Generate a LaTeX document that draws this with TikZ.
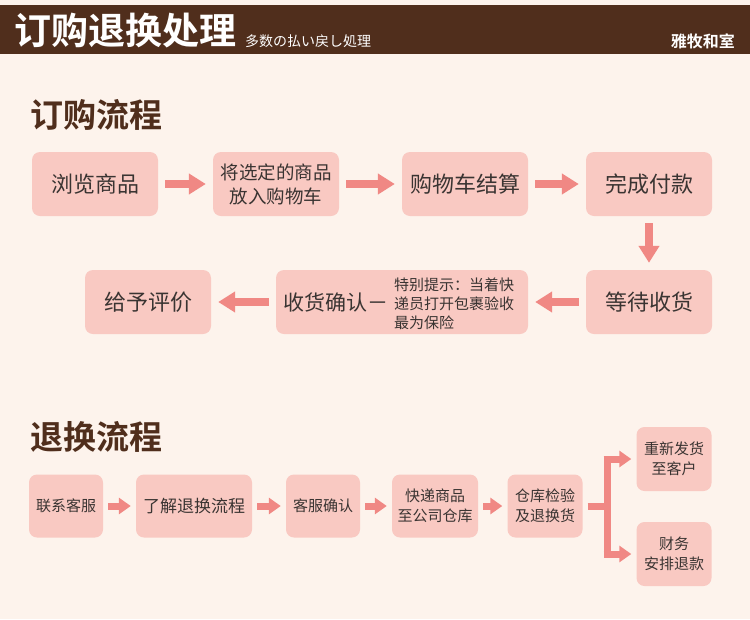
\documentclass[tikz,border=0pt]{standalone}
\usepackage{fontspec}
\setmainfont{Noto Sans CJK SC}
\newfontfamily\cjkbold{Noto Sans CJK SC Bold}
\usepackage{xcolor}
\usetikzlibrary{arrows.meta}
\definecolor{Cream}{RGB}{253,243,236}
\definecolor{Cocoa}{RGB}{80,46,28}
\definecolor{Blush}{RGB}{249,201,194}
\definecolor{Salmon}{RGB}{240,136,132}
\definecolor{Ink}{RGB}{58,52,50}

\tikzset{
  flowbox/.style={fill=Blush,rounded corners=8pt,text=Ink,align=center,
    inner sep=0pt,minimum width=126pt,minimum height=64pt,font=\fontsize{22}{26}\selectfont},
  smallbox/.style={flowbox,minimum width=74pt,minimum height=63pt,font=\fontsize{15}{20}\selectfont},
  bigarrow/.style={draw=Salmon,line width=8pt,-{Triangle[width=20pt,length=17pt]},
    shorten <=7pt,shorten >=7pt},
  smallarrow/.style={draw=Salmon,line width=7pt,-{Triangle[width=16pt,length=12pt]},
    shorten <=5pt,shorten >=5pt},
  heading/.style={text=Cocoa,font=\cjkbold\fontsize{33}{36}\selectfont,anchor=west,inner sep=0pt}
}

\begin{document}
\begin{tikzpicture}[x=1pt,y=-1pt]
  \useasboundingbox (0,0) rectangle (750,619);
  \fill[Cream] (0,0) rectangle (750,619);
  % header bar
  \fill[Cocoa] (0,5) rectangle (750,54);
  \node[anchor=west,inner sep=0pt,text=white,font=\cjkbold\fontsize{37}{40}\selectfont] (title) at (14,31) {订购退换处理};
  \node[anchor=base west,inner sep=0pt,text=white,font=\fontsize{14}{16}\selectfont] (subtitle) at (245,46) {多数の払い戻し処理};
  \node[anchor=base east,inner sep=0pt,text=white,font=\cjkbold\fontsize{16}{18}\selectfont] (brand) at (735,47) {雅牧和室};

  % order flow
  \node[heading] (orderhead) at (30,115) {订购流程};
  \node[flowbox] (browse) at (95,184) {浏览商品};
  \node[flowbox,font=\fontsize{18.5}{24}\selectfont] (cart) at (276,184) {将选定的商品\\放入购物车};
  \node[flowbox] (checkout) at (465,184) {购物车结算};
  \node[flowbox] (pay) at (649,184) {完成付款};
  \node[flowbox] (wait) at (649,302) {等待收货};
  \node[flowbox,minimum width=252pt] (confirm) at (402,302) {};
  \node[anchor=west,inner sep=0pt,text=Ink,font=\fontsize{21}{24}\selectfont] (confirmtxt) at (283,302) {收货确认－};
  \node[anchor=west,inner sep=0pt,text=Ink,align=left,font=\fontsize{15}{19}\selectfont] (tip) at (394,304) {特别提示：当着快\\递员打开包裹验收\\最为保险};
  \node[flowbox] (review) at (148,302) {给予评价};

  \draw[bigarrow] (browse) -- (cart);
  \draw[bigarrow] (cart) -- (checkout);
  \draw[bigarrow] (checkout) -- (pay);
  \draw[bigarrow] (pay) -- (wait);
  \draw[bigarrow] (wait) -- (confirm);
  \draw[bigarrow] (confirm) -- (review);

  % return flow
  \node[heading] (returnhead) at (30,437) {退换流程};
  \node[smallbox] (contact) at (66,506) {联系客服};
  \node[smallbox,minimum width=116pt,font=\fontsize{17}{20}\selectfont] (learn) at (194,506) {了解退换流程};
  \node[smallbox] (service) at (323,506) {客服确认};
  \node[smallbox,minimum width=86pt] (ship) at (435,506) {快递商品\\至公司仓库};
  \node[smallbox,minimum width=75pt] (inspect) at (545,506) {仓库检验\\及退换货};
  \node[smallbox,minimum width=75pt,minimum height=64pt] (resend) at (674,459) {重新发货\\至客户};
  \node[smallbox,minimum width=75pt,minimum height=64pt] (refund) at (674,554) {财务\\安排退款};

  \draw[smallarrow] (contact) -- (learn);
  \draw[smallarrow] (learn) -- (service);
  \draw[smallarrow] (service) -- (ship);
  \draw[smallarrow] (ship) -- (inspect);

  % branch
  \coordinate (fork) at (607,506);
  \draw[Salmon,line width=7pt] ([xshift=5pt]inspect.east) -- (fork);
  \draw[Salmon,line width=7pt] (fork |- resend) -- (fork |- refund);
  \draw[smallarrow,shorten <=-3.5pt] (fork |- resend) -- (resend);
  \draw[smallarrow,shorten <=-3.5pt] (fork |- refund) -- (refund);
\end{tikzpicture}
\end{document}
